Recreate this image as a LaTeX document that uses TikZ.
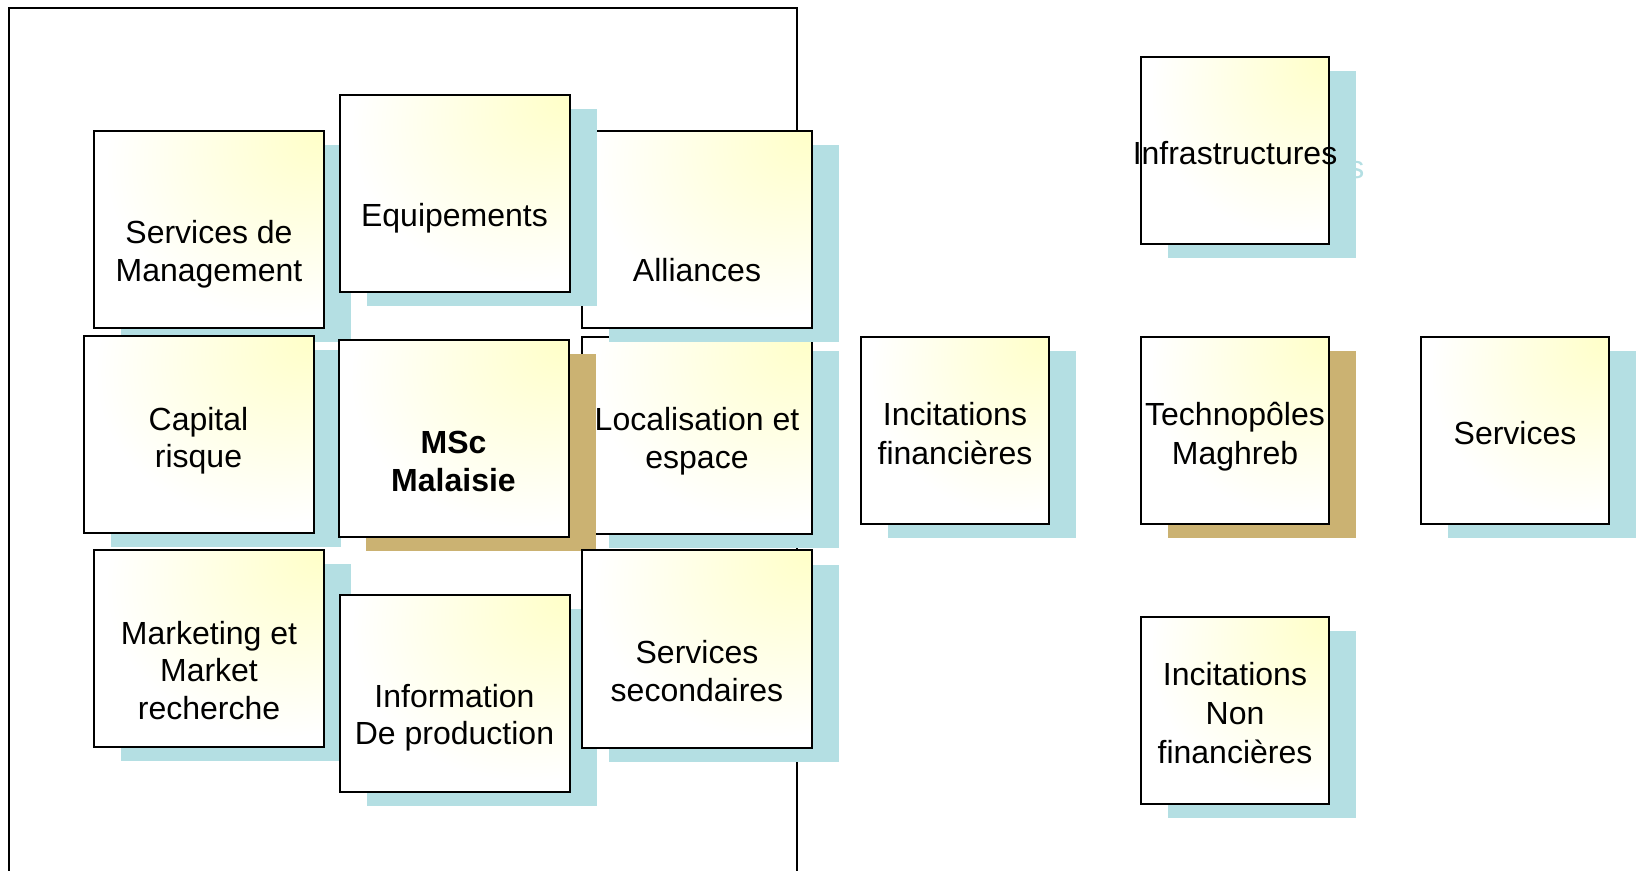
\documentclass[tikz,border=0pt]{standalone}
\usepackage{fontspec}
\setmainfont{Liberation Sans}
\usepackage{tikz}
\usetikzlibrary{positioning, shadows}

\definecolor{shadeblue}{RGB}{180,223,227}
\definecolor{shadetan}{RGB}{203,178,114}
\definecolor{paleyellow}{RGB}{255,255,200}
\pgfdeclareradialshading{cornerglow}{\pgfpoint{25bp}{25bp}}{color(0bp)=(paleyellow); color(38bp)=(white); color(100bp)=(white)}
\newcommand{\lead}{\rule{0pt}{17.4pt}}
\newcommand{\tail}{\rule[-3pt]{0pt}{3pt}}

\begin{document}
\begin{tikzpicture}[x=0.5pt, y=-0.5pt, node distance=140pt, on grid,
    box/.style={draw, line width=1pt, inner sep=1pt, align=center,
        shading=cornerglow,
        drop shadow={shadow xshift=13.5pt, shadow yshift=-7pt, fill=#1, opacity=1}},
    lbox/.style={box=#1, minimum width=115pt, minimum height=98.5pt,
        font=\fontsize{16}{18.9}\selectfont},
    lbox/.default=shadeblue,
    rbox/.style={box=#1, minimum width=94pt, minimum height=93.5pt,
        font=\fontsize{16}{19.5}\selectfont},
    rbox/.default=shadeblue,
    ghost/.style={text=shadeblue, inner sep=1pt, font=\fontsize{16}{19.5}\selectfont}]
    \useasboundingbox (0,0) rectangle (1639,871);

    % cadre MSc
    \draw[line width=1pt] (9,871) |- (797,8) -- (797,871);

    \node[lbox] (loc)   at (697,435.5)   {\lead Localisation et\\espace\tail};
    \node[lbox] (alli)  at (697,229.5)   {\lead\\\strut\\Alliances\tail};
    \node[lbox] (mgmt)  at (209,229.5)   {\lead\\Services de\\Management\tail};
    \node[lbox] (equip) at (454.5,193.5) {\lead\\Equipements\tail};
    \node[lbox] (cap)   at (198.5,435)   {\lead Capital\\risque\tail};
    \node[lbox=shadetan, font=\fontsize{16}{18.9}\selectfont\bfseries] (msc) at (453.5,439) {\lead\\MSc\\Malaisie\tail};
    \node[lbox] (mkt)   at (209,648.5)   {\lead\\Marketing et\\Market\\recherche\tail};
    \node[lbox] (info)  at (454.5,693)   {\lead\\Information\\De production\tail};
    \node[lbox] (sec)   at (697,649)     {\lead\\Services\\secondaires\tail};

    % Maghreb
    \node[rbox=shadetan] (techno) at (1235,430.5) {\lead Technop\^oles\\Maghreb\tail};
    \node[rbox] (incfin) [left=of techno]  {\lead Incitations\\financi\`eres\tail};
    \node[rbox] (serv)   [right=of techno] {\lead Services\tail};
    \node[rbox] (incnf)  [below=of techno] {\lead Incitations\\Non\\financi\`eres\tail};
    \node[ghost, above=of techno, xshift=13.5pt, yshift=-7pt] (infraghost) {\lead Infrastructures\tail};
    \node[rbox] (infra)  [above=of techno] {\lead\makebox[80pt]{Infrastructures}\tail};
\end{tikzpicture}
\end{document}
